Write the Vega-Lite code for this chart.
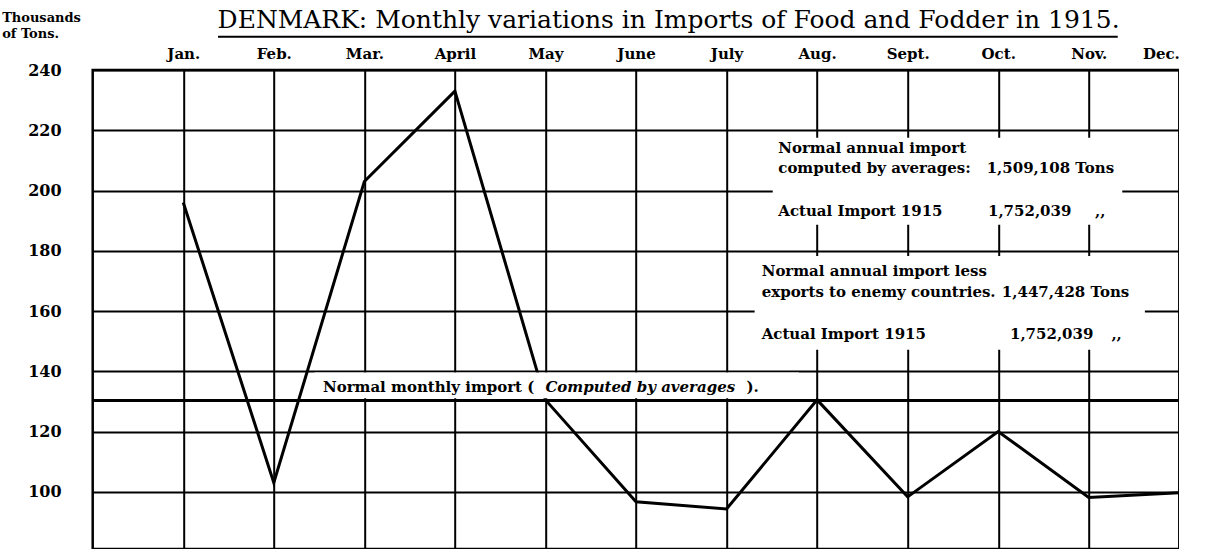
{
  "$schema": "https://vega.github.io/schema/vega-lite/v6.json",
  "width": 1086.6,
  "height": 479,
  "autosize": "none",
  "padding": {"left": 92.7, "top": 70, "right": 0, "bottom": 0},
  "background": "white",
  "config": {"view": {"stroke": "black", "strokeWidth": 2.5}, "font": "DejaVu Serif"},
  "datasets": {
    "imports": [
      {"month": 1, "value": 196},
      {"month": 2, "value": 103},
      {"month": 3, "value": 203},
      {"month": 4, "value": 233},
      {"month": 5, "value": 130.5},
      {"month": 6, "value": 96.7},
      {"month": 7, "value": 94.3},
      {"month": 8, "value": 130.5},
      {"month": 9, "value": 98.3},
      {"month": 10, "value": 120},
      {"month": 11, "value": 98.1},
      {"month": 12, "value": 99.7}
    ],
    "normal": [{"month": 0, "value": 130.3}],
    "boxes": [
      {"month": 2.45, "x2": 7.8, "value": 131.0, "y2": 139.6},
      {"month": 7.51, "x2": 11.37, "value": 188.6, "y2": 217.5},
      {"month": 7.31, "x2": 11.62, "value": 147.1, "y2": 178.3}
    ],
    "title": [{"month": 6.36, "value": 254.0, "t": "DENMARK: Monthly variations in Imports of Food and Fodder in 1915."}],
    "underline": [{"month": 1.384, "x2": 11.32, "value": 251.06}],
    "unit": [
      {"month": -1.0, "value": 255.9, "t": "Thousands"},
      {"month": -1.0, "value": 250.5, "t": "of Tons."}
    ],
    "bold": [
      {"month": 2.543, "value": 133.1, "t": "Normal monthly import ("},
      {"month": 7.22, "value": 133.1, "t": ")."},
      {"month": 7.571, "value": 212.4, "t": "Normal annual import"},
      {"month": 7.571, "value": 205.8, "t": "computed by averages:"},
      {"month": 9.873, "value": 205.8, "t": "1,509,108 Tons"},
      {"month": 7.571, "value": 191.6, "t": "Actual Import 1915"},
      {"month": 9.887, "value": 191.6, "t": "1,752,039"},
      {"month": 11.07, "value": 191.6, "t": ",,"},
      {"month": 7.388, "value": 171.7, "t": "Normal annual import less"},
      {"month": 7.388, "value": 164.6, "t": "exports to enemy countries."},
      {"month": 10.04, "value": 164.6, "t": "1,447,428 Tons"},
      {"month": 7.388, "value": 150.6, "t": "Actual Import 1915"},
      {"month": 10.13, "value": 150.6, "t": "1,752,039"},
      {"month": 11.25, "value": 150.6, "t": ",,"}
    ],
    "italic": [{"month": 5.0, "value": 133.1, "t": "Computed by averages"}]
  },
  "encoding": {
    "x": {
      "field": "month", "type": "quantitative",
      "scale": {"domain": [0, 12], "nice": false, "zero": false},
      "axis": {
        "orient": "top", "values": [1, 2, 3, 4, 5, 6, 7, 8, 9, 10, 11, 12],
        "grid": true, "gridColor": "black", "gridWidth": 2, "gridOpacity": 1,
        "ticks": false, "tickSize": 0, "domain": false,
        "labelExpr": "['','Jan.','Feb.','Mar.','April','May','June','July','Aug.','Sept.','Oct.','Nov.','Dec.'][datum.value]",
        "labelFont": "DejaVu Serif", "labelFontSize": 15, "labelFontWeight": "bold", "labelColor": "black",
        "labelPadding": 12, "labelBaseline": "alphabetic", "labelFlush": true, "labelOverlap": false,
        "title": null
      }
    },
    "y": {
      "field": "value", "type": "quantitative",
      "scale": {"domain": [81, 240], "nice": false, "zero": false},
      "axis": {
        "values": [100, 120, 140, 160, 180, 200, 220, 240],
        "grid": true, "gridColor": "black", "gridWidth": 2, "gridOpacity": 1,
        "ticks": false, "tickSize": 0, "domain": false,
        "labelFont": "DejaVu Serif", "labelFontSize": 16, "labelFontWeight": "bold", "labelColor": "black",
        "labelAlign": "left", "labelPadding": 65, "labelBaseline": "middle", "labelOverlap": false,
        "title": null
      }
    }
  },
  "layer": [
    {
      "data": {"name": "imports"},
      "mark": {"type": "line", "stroke": "black", "strokeWidth": 3, "strokeJoin": "miter"}
    },
    {
      "data": {"name": "normal"},
      "mark": {"type": "rule", "stroke": "black", "strokeWidth": 3},
      "encoding": {
        "x": null,
        "y": {"field": "value", "type": "quantitative"}
      }
    },
    {
      "data": {"name": "boxes"},
      "mark": {"type": "rect", "fill": "white", "stroke": null},
      "encoding": {
        "x2": {"field": "x2"},
        "y2": {"field": "y2"}
      }
    },
    {
      "data": {"name": "title"},
      "mark": {"type": "text", "align": "center", "baseline": "alphabetic", "font": "DejaVu Serif", "fontSize": 25, "fontWeight": "normal", "color": "black"},
      "encoding": {"text": {"field": "t"}}
    },
    {
      "data": {"name": "underline"},
      "mark": {"type": "rule", "stroke": "black", "strokeWidth": 2},
      "encoding": {"x2": {"field": "x2"}}
    },
    {
      "data": {"name": "unit"},
      "mark": {"type": "text", "align": "left", "baseline": "alphabetic", "font": "DejaVu Serif", "fontSize": 13, "fontWeight": "bold", "color": "black"},
      "encoding": {"text": {"field": "t"}}
    },
    {
      "data": {"name": "bold"},
      "mark": {"type": "text", "align": "left", "baseline": "alphabetic", "font": "DejaVu Serif", "fontSize": 15, "fontWeight": "bold", "color": "black"},
      "encoding": {"text": {"field": "t"}}
    },
    {
      "data": {"name": "italic"},
      "mark": {"type": "text", "align": "left", "baseline": "alphabetic", "font": "DejaVu Serif", "fontSize": 15, "fontWeight": "bold", "fontStyle": "italic", "color": "black"},
      "encoding": {"text": {"field": "t"}}
    }
  ]
}
